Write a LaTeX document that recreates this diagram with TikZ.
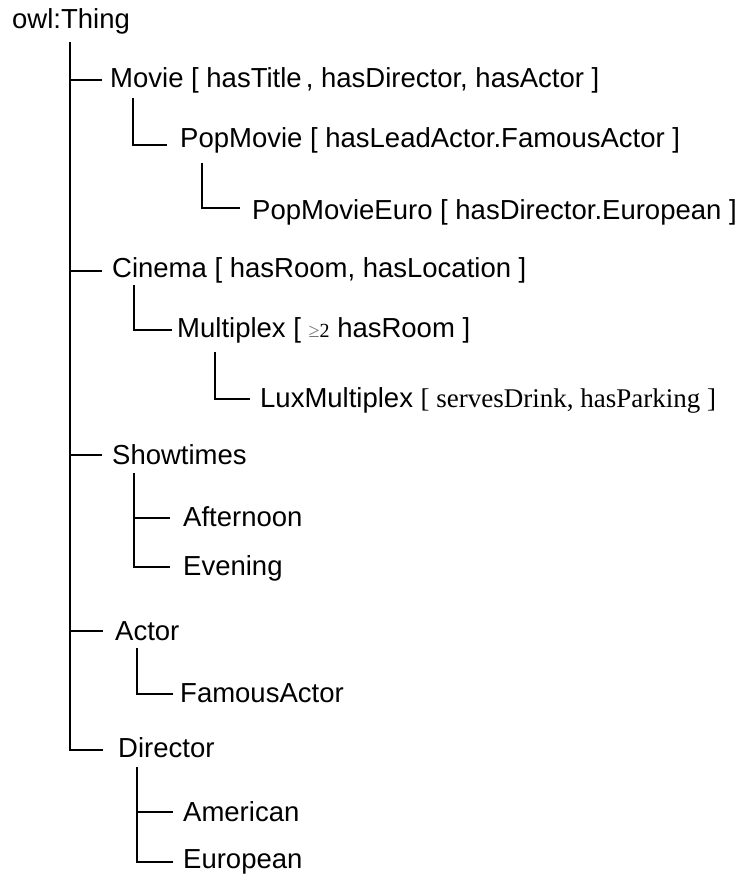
\documentclass[tikz,border=0pt]{standalone}
\usepackage{fontspec}
\setmainfont{Liberation Sans}
\newfontfamily\serifface{Liberation Serif}
\begin{document}
\begin{tikzpicture}[x=1pt,y=-1pt,
  cls/.style={anchor=base west, inner sep=0pt, font=\fontsize{27.5}{27.5}\selectfont},
  link/.style={line width=1.7pt, line join=miter}]
\useasboundingbox (0,0) rectangle (742,877);

% class names
\node[cls] (thing)   at (12,29)  {owl:Thing};
\node[cls] (movie)   at (110,88) {Movie [ hasTitle\hspace{0.15em}, hasDirector, hasActor ]};
\node[cls] (pop)     at (180,148) {PopMovie [ hasLeadActor.FamousActor ]};
\node[cls] (popeuro) at (252,220) {PopMovieEuro [ hasDirector.European ]};
\node[cls] (cinema)  at (112,277) {Cinema [ hasRoom, hasLocation ]};
\node[cls] (multi)   at (177,337) {Multiplex [ {\serifface\fontsize{20}{20}\selectfont\textcolor{black!55}{≥}2} hasRoom ]};
\node[cls] (lux)     at (260,407) {LuxMultiplex {\serifface\fontsize{27}{27}\selectfont [ servesDrink, hasParking ]}};
\node[cls] (show)    at (112,464) {Showtimes};
\node[cls] (after)   at (183,526) {Afternoon};
\node[cls] (even)    at (183,575) {Evening};
\node[cls] (actor)   at (115,640) {Actor};
\node[cls] (famous)  at (180,702) {FamousActor};
\node[cls] (dir)     at (118,757) {Director};
\node[cls] (amer)    at (183,821) {American};
\node[cls] (euro)    at (183,868) {European};

% trunk tops below each parent
\coordinate (t-thing)  at ([shift={(58,13)}]thing.base west);
\coordinate (t-movie)  at ([shift={(23,10)}]movie.base west);
\coordinate (t-pop)    at ([shift={(22,15)}]pop.base west);
\coordinate (t-cinema) at ([shift={(22,8)}]cinema.base west);
\coordinate (t-multi)  at ([shift={(38,15)}]multi.base west);
\coordinate (t-show)   at ([shift={(22,9)}]show.base west);
\coordinate (t-actor)  at ([shift={(22,8)}]actor.base west);
\coordinate (t-dir)    at ([shift={(19,10)}]dir.base west);

% branch ends in front of each child
\coordinate (e-movie)   at ([shift={(-8,-8)}]movie.base west);
\coordinate (e-cinema)  at ([shift={(-10,-6)}]cinema.base west);
\coordinate (e-show)    at ([shift={(-10,-9)}]show.base west);
\coordinate (e-actor)   at ([shift={(-12,-9)}]actor.base west);
\coordinate (e-dir)     at ([shift={(-15,-7)}]dir.base west);
\coordinate (e-pop)     at ([shift={(-13,-3)}]pop.base west);
\coordinate (e-popeuro) at ([shift={(-12,-12)}]popeuro.base west);
\coordinate (e-multi)   at ([shift={(-5,-7)}]multi.base west);
\coordinate (e-lux)     at ([shift={(-10,-8)}]lux.base west);
\coordinate (e-after)   at ([shift={(-13,-8)}]after.base west);
\coordinate (e-even)    at ([shift={(-13,-8)}]even.base west);
\coordinate (e-famous)  at ([shift={(-7,-8)}]famous.base west);
\coordinate (e-amer)    at ([shift={(-10,-9)}]amer.base west);
\coordinate (e-euro)    at ([shift={(-10,-6)}]euro.base west);

% owl:Thing subtree
\draw[link] (t-thing) |- (e-dir);
\draw[link] (e-movie -| t-thing) -- (e-movie);
\draw[link] (e-cinema -| t-thing) -- (e-cinema);
\draw[link] (e-show -| t-thing) -- (e-show);
\draw[link] (e-actor -| t-thing) -- (e-actor);

% single-child branches
\draw[link] (t-movie) |- (e-pop);
\draw[link] (t-pop) |- (e-popeuro);
\draw[link] (t-cinema) |- (e-multi);
\draw[link] (t-multi) |- (e-lux);
\draw[link] (t-actor) |- (e-famous);

% two-child branches
\draw[link] (t-show) |- (e-even);
\draw[link] (e-after -| t-show) -- (e-after);
\draw[link] (t-dir) |- (e-euro);
\draw[link] (e-amer -| t-dir) -- (e-amer);
\end{tikzpicture}
\end{document}
